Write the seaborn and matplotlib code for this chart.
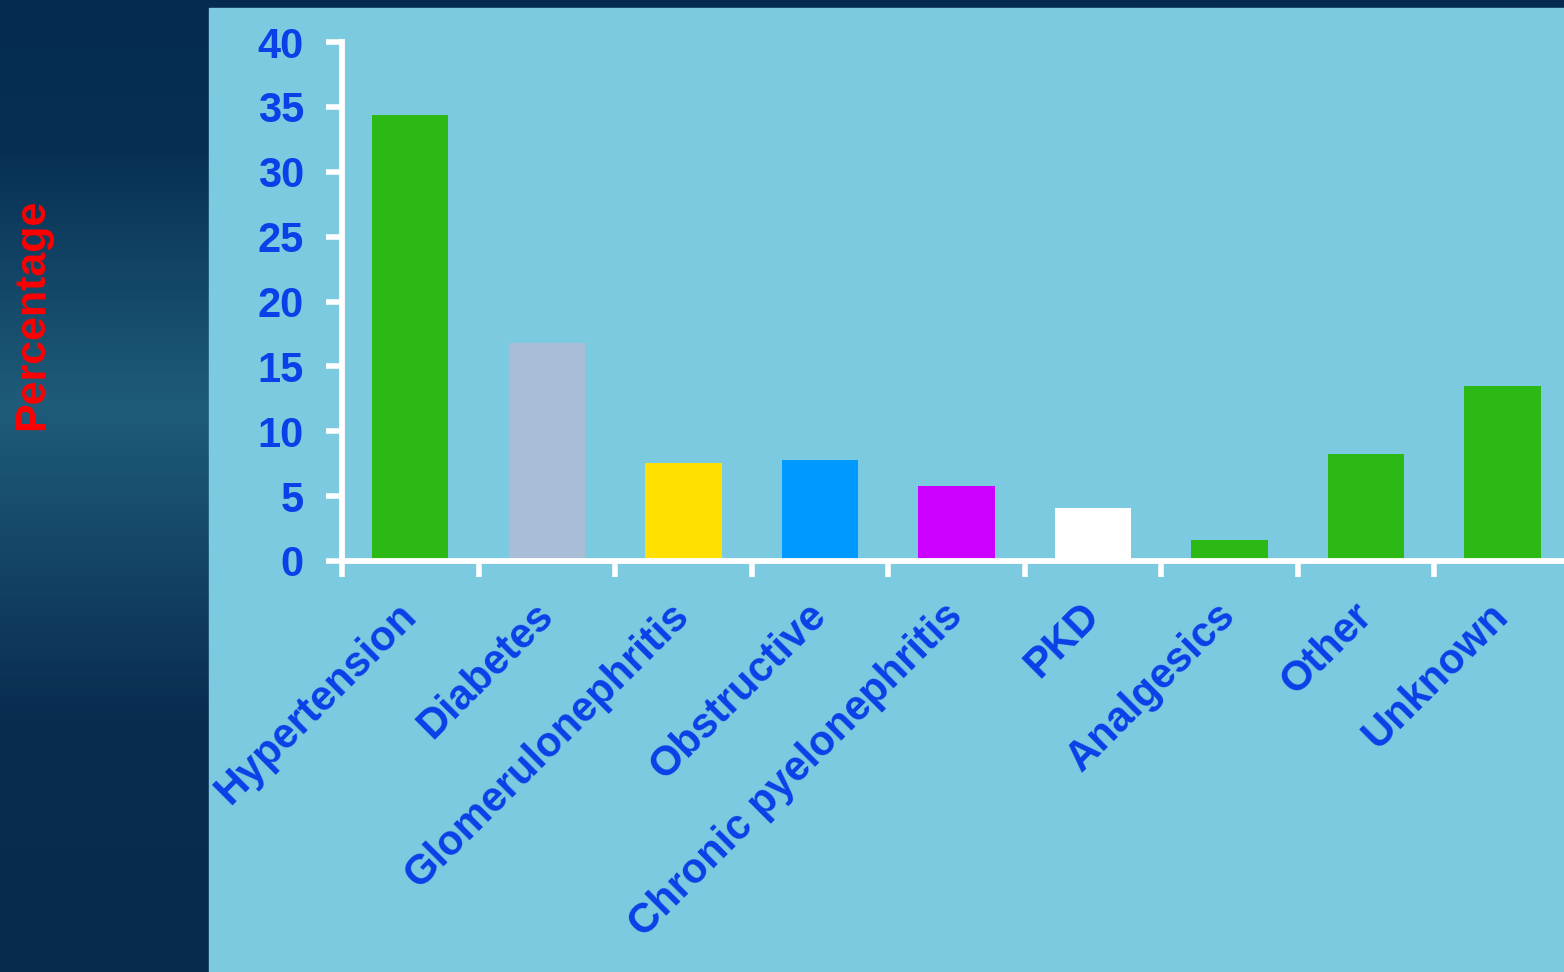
import numpy as np
import pandas as pd
import matplotlib
matplotlib.use("Agg")
import matplotlib.pyplot as plt
from matplotlib.colors import LinearSegmentedColormap
from matplotlib.ticker import FixedLocator
import seaborn as sns

categories = ["Hypertension", "Diabetes", "Glomerulonephritis", "Obstructive",
              "Chronic pyelonephritis", "PKD", "Analgesics", "Other", "Unknown"]
values = [34.4, 16.8, 7.55, 7.8, 5.8, 4.1, 1.6, 8.25, 13.5]
bar_colors = ["#2CB916", "#A9BDD6", "#FFE000", "#0099FF", "#CC00FF",
              "#FFFFFF", "#2CB916", "#2CB916", "#2CB916"]
y_ticks = [0, 5, 10, 15, 20, 25, 30, 35, 40]
y_label = "Percentage"

sns.set_theme(style="white")
plt.rcParams['font.family'] = ['Liberation Sans', 'DejaVu Sans']

W, H = 1564, 972
fig = plt.figure(figsize=(W / 100, H / 100), dpi=100)

# background gradient
bg = fig.add_axes([0, 0, 1, 1])
bg.set_axis_off()
cmap = LinearSegmentedColormap.from_list(
    "bg", [(0.0, "#052C50"), (0.15, "#062F53"), (0.42, "#1F5C7A"),
           (0.74, "#092C51"), (1.0, "#082A4E")])
grad = np.linspace(0, 1, 512).reshape(-1, 1)
bg.imshow(grad, aspect="auto", cmap=cmap, extent=[0, 1, 0, 1], origin="upper")
bg.add_patch(plt.Rectangle((209 / W, 0), 1 - 209 / W, 1 - 8 / H,
                           color="#7BCADF", transform=bg.transAxes, zorder=2))
bg.set_xlim(0, 1)
bg.set_ylim(0, 1)

ax = fig.add_axes([342 / W, 1 - 561 / H, 1 - 342 / W, (561 - 42) / H])
ax.set_facecolor("none")
df = pd.DataFrame({"cat": categories, "val": values})
sns.barplot(data=df, x="cat", y="val", hue="cat", palette=bar_colors,
            legend=False, width=0.56, ax=ax, saturation=1, linewidth=0)

ax.set_xlim(-0.5, 8.45)
ax.set_ylim(0, 40)
ax.set_yticks(y_ticks)
blue = "#0A40E8"
for s in ["top", "right"]:
    ax.spines[s].set_visible(False)
for s in ["left", "bottom"]:
    ax.spines[s].set_color("white")
    ax.spines[s].set_linewidth(4.2)

ax.tick_params(axis="y", direction="out", length=11.5, width=4, color="white",
               labelcolor=blue, labelsize=30, pad=16, left=True)
for lab in ax.get_yticklabels():
    lab.set_fontweight("bold")

ax.set_xticks(range(len(categories)))
ax.set_xticklabels(categories, rotation=45, ha="right", va="center",
                   rotation_mode="anchor", color=blue, fontsize=30,
                   fontweight="bold")
ax.tick_params(axis="x", which="major", length=0, pad=35)
ax.xaxis.set_minor_locator(FixedLocator(np.arange(-0.5, 8.0, 1.0)))
ax.tick_params(axis="x", which="minor", direction="out", length=11.5, width=4,
               color="white", bottom=True)
ax.set_xlabel("")
ax.set_ylabel("")

fig.text(32 / W, 1 - 314 / H, y_label, rotation=90, ha="center", va="center",
         color="#FF0000", fontsize=31, fontweight="bold")

fig.savefig("out.png", dpi=100)
